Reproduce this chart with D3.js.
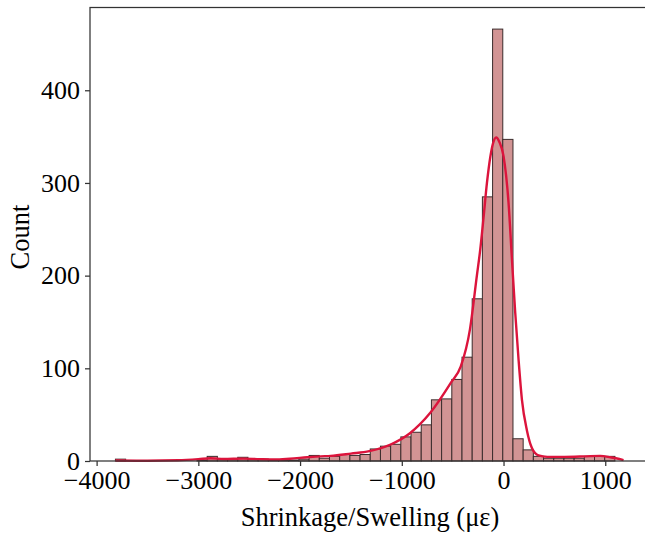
<!DOCTYPE html>
<html>
<head>
<meta charset="utf-8">
<script src="https://cdn.jsdelivr.net/npm/d3@7"></script>
<style>
  html, body { margin: 0; padding: 0; background: #fff; }
  svg { display: block; }
  text { font-family: "Liberation Serif", "Times New Roman", serif; fill: #000; }
</style>
</head>
<body>
<svg id="chart" width="645" height="535"></svg>
<script>
// ---- data ----
const binStart = -3815;
const binWidth = 100.2;
const counts = [2, 0, 0, 0, 0, 0, 0, 0, 1, 5,
                2, 2, 4, 2, 2, 1, 1, 1, 2, 6,
                3, 5, 7, 6, 7, 13, 16, 18, 26, 31,
                39, 66, 67, 88, 112, 175, 285, 466, 347, 24,
                12, 5, 3, 3, 3, 3, 5, 5, 5];
const kdeX = [-3815, -3500, -3200, -3000, -2880, -2750, -2560, -2400, -2250, -2100,
              -1930, -1800, -1700, -1500, -1320, -1110, -920, -720, -520, -420,
              -330, -262, -229, -197, -163, -130, -105, -72, -40, 0,
              49, 83, 115, 148, 181, 230, 279, 344, 430, 600,
              800, 950, 1050, 1180];
const kdeY = [0.5, 0.3, 0.8, 2, 3, 2.2, 2.6, 2, 1.6, 2.5,
              4, 5, 5.5, 8, 10.6, 17.8, 30, 52, 84, 102,
              142, 200, 228, 262, 300, 328, 342, 349, 344, 329,
              279, 217, 160, 109, 66, 33, 14, 6, 4.5, 4.5,
              5, 5.5, 4, 1];
const xTicks = [-4000, -3000, -2000, -1000, 0, 1000];
const yTicks = [0, 100, 200, 300, 400];
const xLabel = "Shrinkage/Swelling (με)";
const yLabel = "Count";

// ---- layout ----
(function () {
const svg = d3.select("#chart");
const mL = 90, mR = 649, mT = 7.5, mB = 461;
const x = d3.scaleLinear().domain([-4065, 1430]).range([mL, mR]);
const y = d3.scaleLinear().domain([0, 489.3]).range([mB, mT]);

const bins = counts.map((c, i) => ({ x0: binStart + i * binWidth, x1: binStart + (i + 1) * binWidth, c }));

// bars
svg.append("g").selectAll("rect").data(bins).join("rect")
  .attr("x", d => x(d.x0))
  .attr("y", d => y(d.c))
  .attr("width", d => x(d.x1) - x(d.x0))
  .attr("height", d => y(0) - y(d.c))
  .attr("fill", "#d29494")
  .attr("stroke", "#3b2c2c")
  .attr("stroke-width", 1);

// kde
const kde = kdeX.map((v, i) => [v, kdeY[i]]);
svg.append("path")
  .datum(kde)
  .attr("fill", "none")
  .attr("stroke", "#dc143c")
  .attr("stroke-width", 2.4)
  .attr("stroke-linejoin", "round")
  .attr("d", d3.line().x(d => x(d[0])).y(d => y(d[1])).curve(d3.curveMonotoneX));

// axes
const fmt = d3.format("d");
const xAxis = svg.append("g").attr("transform", `translate(0,${mB})`)
  .call(d3.axisBottom(x).tickValues(xTicks).tickFormat(fmt).tickSize(5).tickSizeOuter(0).tickPadding(5));
const yAxis = svg.append("g").attr("transform", `translate(${mL},0)`)
  .call(d3.axisLeft(y).tickValues(yTicks).tickFormat(fmt).tickSize(5).tickSizeOuter(0).tickPadding(5));
[xAxis, yAxis].forEach(g => {
  g.select(".domain").remove();
  g.selectAll(".tick line").attr("stroke", "#333").attr("stroke-width", 1.25);
  g.selectAll(".tick text").attr("font-family", "Liberation Serif, serif").attr("font-size", 26).attr("fill", "#000");
});

// frame
svg.append("rect")
  .attr("x", mL).attr("y", mT)
  .attr("width", mR - mL).attr("height", mB - mT)
  .attr("fill", "none").attr("stroke", "#333").attr("stroke-width", 1.25);

// labels
svg.append("text")
  .attr("x", 370).attr("y", 526)
  .attr("text-anchor", "middle").attr("font-size", 26.5)
  .text(xLabel);
svg.append("text")
  .attr("transform", `translate(29,237) rotate(-90)`)
  .attr("text-anchor", "middle").attr("font-size", 26.5)
  .text(yLabel);
})();
</script>
</body>
</html>
